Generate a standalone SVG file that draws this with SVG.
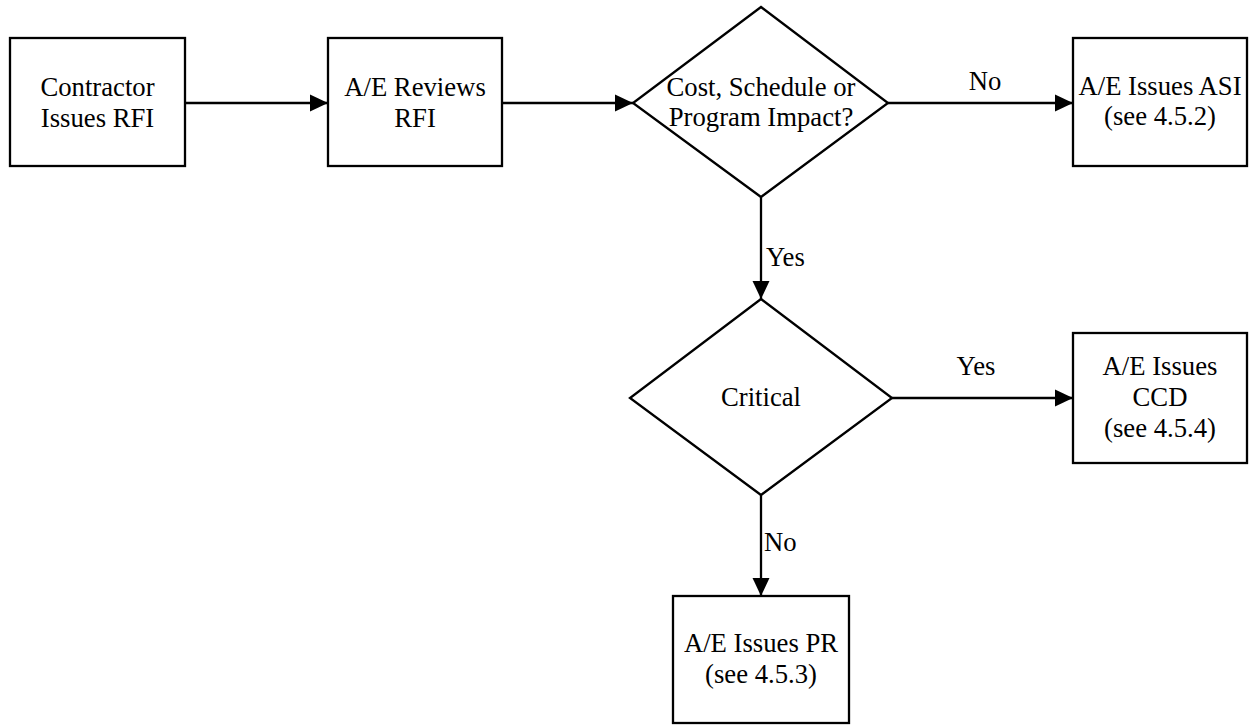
<svg xmlns="http://www.w3.org/2000/svg" width="1249" height="725" viewBox="0 0 1249 725">
<defs>
<style>
.shape{fill:#fff;stroke:#000;stroke-width:2.3}
.conn{fill:none;stroke:#000;stroke-width:2.3}
text{font-family:'Liberation Serif','Times New Roman',serif;font-size:26.7px;fill:#000;text-anchor:middle}
.lbl{text-anchor:start}
</style>
<marker id="arr" markerUnits="userSpaceOnUse" markerWidth="18" markerHeight="18" viewBox="0 0 17 16" refX="17" refY="8" orient="auto">
<path d="M0,0 L17,8 L0,16 Z" fill="#000"/>
</marker>
</defs>
<rect width="1249" height="725" fill="#fff"/>
<g id="connectors">
<line class="conn" x1="185" y1="103" x2="328" y2="103" marker-end="url(#arr)"/>
<line class="conn" x1="502" y1="103" x2="633" y2="103" marker-end="url(#arr)"/>
<line class="conn" x1="888" y1="103" x2="1073" y2="103" marker-end="url(#arr)"/>
<text x="985" y="90">No</text>
<line class="conn" x1="761" y1="197" x2="761" y2="299" marker-end="url(#arr)"/>
<text class="lbl" x="766" y="266">Yes</text>
<line class="conn" x1="892" y1="398" x2="1073" y2="398" marker-end="url(#arr)"/>
<text x="976" y="375">Yes</text>
<line class="conn" x1="761" y1="495" x2="761" y2="596" marker-end="url(#arr)"/>
<text class="lbl" x="764" y="551">No</text>
</g>
<g id="contractor">
<rect class="shape" x="10" y="38" width="175" height="128"/>
<text x="97.5" y="96">Contractor</text>
<text x="97.5" y="127">Issues RFI</text>
</g>
<g id="ae-reviews">
<rect class="shape" x="328" y="38" width="174" height="128"/>
<text x="415" y="96">A/E Reviews</text>
<text x="415" y="127">RFI</text>
</g>
<g id="impact">
<polygon class="shape" points="761,7 888,103 761,197 633,103"/>
<text x="761" y="96">Cost, Schedule or</text>
<text x="761" y="126">Program Impact?</text>
</g>
<g id="asi">
<rect class="shape" x="1073" y="38" width="174" height="128"/>
<text x="1160" y="95">A/E Issues ASI</text>
<text x="1160" y="125">(see 4.5.2)</text>
</g>
<g id="critical">
<polygon class="shape" points="761,299 892,398 761,495 630,398"/>
<text x="761" y="406">Critical</text>
</g>
<g id="ccd">
<rect class="shape" x="1073" y="333" width="174" height="130"/>
<text x="1160" y="375">A/E Issues</text>
<text x="1160" y="406">CCD</text>
<text x="1160" y="437">(see 4.5.4)</text>
</g>
<g id="pr">
<rect class="shape" x="673" y="596" width="176" height="127"/>
<text x="761" y="652">A/E Issues PR</text>
<text x="761" y="683">(see 4.5.3)</text>
</g>
</svg>
